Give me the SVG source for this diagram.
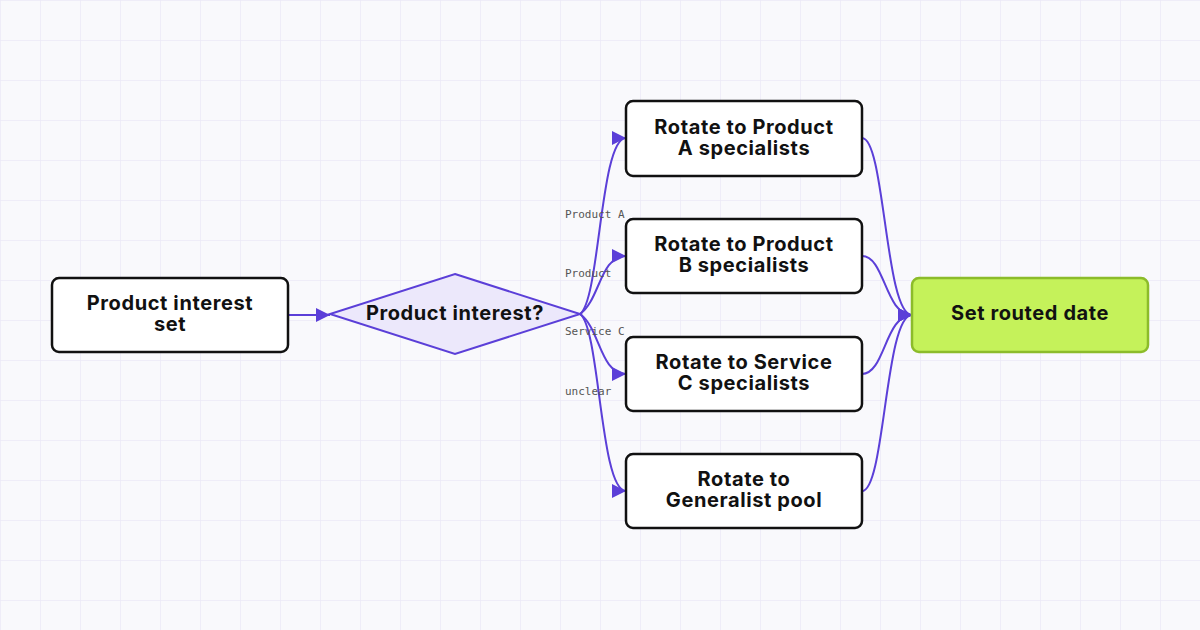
<svg xmlns="http://www.w3.org/2000/svg" width="1200" height="630" viewBox="0 0 1200 630">
<defs>
<pattern id="g" width="40" height="40" patternUnits="userSpaceOnUse"><path d="M0 0H40M0 0V40" fill="none" stroke="#ebe9f7" stroke-width="1.5"/></pattern>
<marker id="b" viewBox="0 0 10 10" refX="10" refY="5" markerWidth="14" markerHeight="14" orient="auto" markerUnits="userSpaceOnUse"><path d="M0 0L10 5L0 10z" fill="#5b3fd8"/></marker>
</defs>
<style>
.n{fill:#fff;stroke:#111;stroke-width:2.5}
.t{font-family:Inter,"Liberation Sans",sans-serif;font-weight:700;font-size:20px;letter-spacing:0.6px;fill:#111;text-anchor:middle}
.e{fill:none;stroke:#5b3fd8;stroke-width:2}
.l{font-family:"DejaVu Sans Mono","Liberation Mono",monospace;font-size:11px;fill:#555}
</style>
<rect width="1200" height="630" fill="#f9f9fc"/>
<rect width="1200" height="630" fill="url(#g)"/>
<g id="edges">
<path class="e" d="M288 315H330" marker-end="url(#b)"/>
<path class="e" d="M580 314C600 300 600 138 626 138" marker-end="url(#b)"/>
<path class="e" d="M580 314C600 300 600 256 626 256" marker-end="url(#b)"/>
<path class="e" d="M580 314C600 328 600 374 626 374" marker-end="url(#b)"/>
<path class="e" d="M580 314C600 328 600 491 626 491" marker-end="url(#b)"/>
<path class="e" d="M862 138C885 138 885 315 912 315" marker-end="url(#b)"/>
<path class="e" d="M862 256C885 256 885 315 912 315" marker-end="url(#b)"/>
<path class="e" d="M862 374C885 374 885 315 912 315" marker-end="url(#b)"/>
<path class="e" d="M862 491C885 491 885 315 912 315" marker-end="url(#b)"/>
<text class="l" x="565" y="218">Product A</text>
<text class="l" x="565" y="277">Product</text>
<text class="l" x="565" y="335">Service C</text>
<text class="l" x="565" y="395">unclear</text>
</g>
<g id="n1"><rect class="n" x="52" y="278" width="236" height="74" rx="7"/><text class="t" x="170" y="310">Product interest</text><text class="t" x="170" y="331">set</text></g>
<g id="d"><path d="M455 274L580 314L455 354L330 314Z" fill="#ece8fb" stroke="#5b3fd8" stroke-width="2"/><text class="t" x="455" y="320">Product interest?</text></g>
<g id="r1"><rect class="n" x="626" y="101" width="236" height="75" rx="7"/><text class="t" x="744" y="134">Rotate to Product</text><text class="t" x="744" y="155">A specialists</text></g>
<g id="r2"><rect class="n" x="626" y="219" width="236" height="74" rx="7"/><text class="t" x="744" y="251">Rotate to Product</text><text class="t" x="744" y="272">B specialists</text></g>
<g id="r3"><rect class="n" x="626" y="337" width="236" height="74" rx="7"/><text class="t" x="744" y="369">Rotate to Service</text><text class="t" x="744" y="390">C specialists</text></g>
<g id="r4"><rect class="n" x="626" y="454" width="236" height="74" rx="7"/><text class="t" x="744" y="486">Rotate to</text><text class="t" x="744" y="507">Generalist pool</text></g>
<g id="f"><rect x="912" y="278" width="236" height="74" rx="7" fill="#c5f25a" stroke="#8cbc2a" stroke-width="2.5"/><text class="t" x="1030" y="320">Set routed date</text></g>
</svg>
